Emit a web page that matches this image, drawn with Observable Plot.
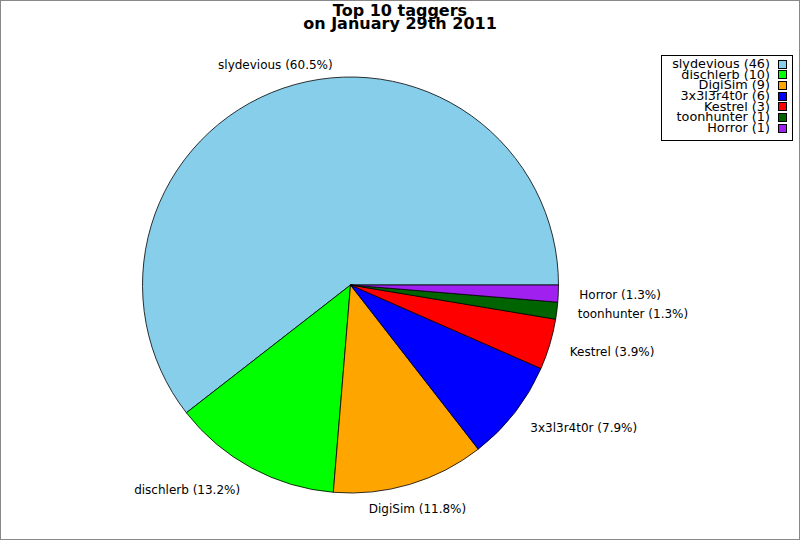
<!DOCTYPE html>
<html><head><meta charset="utf-8">
<script src="https://cdn.jsdelivr.net/npm/d3@7"></script>
<script src="https://cdn.jsdelivr.net/npm/@observablehq/plot@0.6"></script>
<style>
body{margin:0;background:#fff;font-family:"DejaVu Sans",sans-serif;}
#wrap{position:relative;width:800px;height:540px;box-sizing:border-box;border:1px solid #888;overflow:hidden;background:#fff;}
#title{position:absolute;left:0;top:2.7px;width:798px;text-align:center;font-weight:bold;font-size:16px;line-height:13.5px;color:#000;}
#chart{position:absolute;left:0;top:0;}
#legend{position:absolute;left:660px;top:54px;width:130px;height:84px;border:1px solid #000;background:#fff;font-size:12.8px;color:#000;}
.lt{position:absolute;left:0;width:108px;height:12px;line-height:12px;text-align:right;white-space:nowrap;}
.sw{position:absolute;left:116px;width:7px;height:7px;border:1px solid #000;}
</style>
</head><body>
<div id="wrap">
  <div id="chart"></div>
  <div id="title"></div>
  <div id="legend"></div>
</div>
<script>
const names = ["slydevious", "dischlerb", "DigiSim", "3x3l3r4t0r", "Kestrel", "toonhunter", "Horror"];
const counts = [46, 10, 9, 6, 3, 1, 1];
const colors = ["#87CEEB", "#00FF00", "#FFA500", "#0000FF", "#FF0000", "#006400", "#A020F0"];
const titleLines = ["Top 10 taggers", "on January 29th 2011"];

const total = d3.sum(counts);
const data = names.map((n, i) => ({name: n, count: counts[i], color: colors[i]}));

// pie: start at 3 o'clock, counterclockwise
const arcs = d3.pie().sort(null).value(d => d.count)
  .startAngle(Math.PI / 2).endAngle(Math.PI / 2 - 2 * Math.PI)(data);

const K = 1.12;
const labels = arcs.map(a => {
  const theta = Math.PI / 2 - (a.startAngle + a.endAngle) / 2;
  const c = Math.cos(theta);
  return {
    text: `${a.data.name} (${(a.data.count / total * 100).toFixed(1)}%)`,
    x: K * c,
    y: K * Math.sin(theta),
    anchor: c > 0.5 ? "start" : (c < -0.4 ? "end" : "middle")
  };
});

const pieMark = (index, scales) => {
  const cx = scales.x(0), cy = scales.y(0);
  const r = scales.x(1) - cx;
  const arcGen = d3.arc().innerRadius(0).outerRadius(r);
  const g = d3.create("svg:g").attr("transform", `translate(${cx},${cy})`);
  g.selectAll("path").data(arcs).join("path")
    .attr("d", arcGen)
    .attr("fill", d => d.data.color)
    .attr("stroke", "#000")
    .attr("stroke-width", 0.8)
    .attr("stroke-linejoin", "round");
  return g.node();
};

const textOpts = {x: "x", y: "y", text: "text", fontSize: 12, fill: "#000"};
const chart = Plot.plot({
  width: 798,
  height: 538,
  margin: 0,
  style: {fontFamily: "DejaVu Sans, sans-serif", background: "transparent", overflow: "visible"},
  x: {domain: [-1, 1], range: [141.5, 557.5], axis: null},
  y: {domain: [-1, 1], range: [492, 76], axis: null},
  marks: [
    pieMark,
    Plot.text(labels.filter(d => d.anchor === "start"), {...textOpts, textAnchor: "start", dx: -4.5}),
    Plot.text(labels.filter(d => d.anchor === "end"), {...textOpts, textAnchor: "end"}),
    Plot.text(labels.filter(d => d.anchor === "middle"), {...textOpts, textAnchor: "middle"})
  ]
});
document.getElementById("chart").appendChild(chart);

// title
document.getElementById("title").innerHTML = titleLines.map(t => `<div>${t}</div>`).join("");

// legend
const leg = document.getElementById("legend");
data.forEach((d, i) => {
  const cyRow = 8 + 10.67 * i;
  const t = document.createElement("div");
  t.className = "lt";
  t.style.top = (cyRow - 6) + "px";
  t.textContent = `${d.name} (${d.count})`;
  leg.appendChild(t);
  const s = document.createElement("div");
  s.className = "sw";
  s.style.top = (cyRow - 4.5) + "px";
  s.style.background = d.color;
  leg.appendChild(s);
});
</script>
</body></html>
